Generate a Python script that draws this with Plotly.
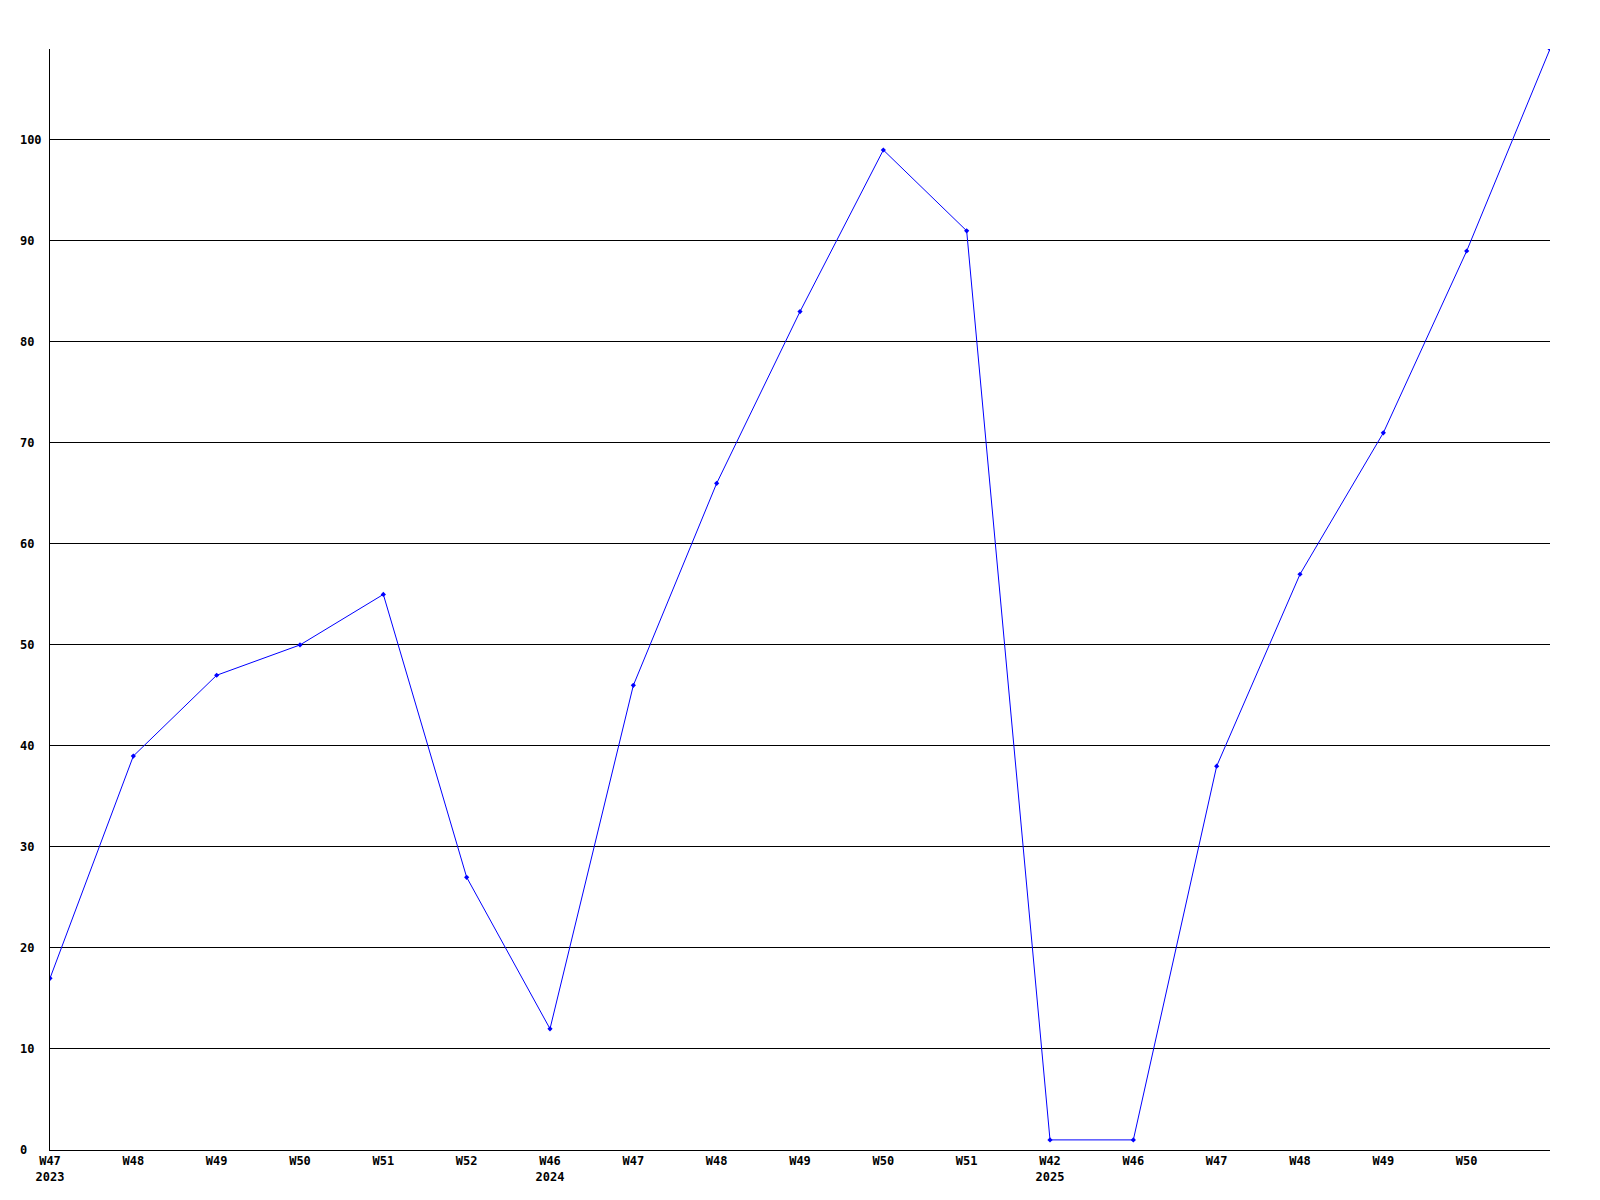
import plotly.graph_objects as go

# Weekly series, one point per week shown on the axis (last point runs off the top).
weeks = ["W47", "W48", "W49", "W50", "W51", "W52",
         "W46", "W47", "W48", "W49", "W50", "W51",
         "W42", "W46", "W47", "W48", "W49", "W50", ""]
years = ["2023", "", "", "", "", "",
         "2024", "", "", "", "", "",
         "2025", "", "", "", "", "", ""]
values = [17, 39, 47, 50, 55, 27, 12, 46, 66, 83, 99, 91, 1, 1, 38, 57, 71, 89, 109]

y_ticks = [0, 10, 20, 30, 40, 50, 60, 70, 80, 90, 100]

INK = "#000000"
LINE = "#0000ff"
FONT = dict(family="DejaVu Sans Mono, monospace", size=12, color=INK, weight="bold")

xs = list(range(len(values)))
tick_text = [f"{w}<br>{y}" if y else w for w, y in zip(weeks, years)]
# y labels are left-aligned in the original; pad with nbsp in a monospace font
width = max(len(str(v)) for v in y_ticks)
y_text = [str(v) + "\u00a0" * (width - len(str(v))) for v in y_ticks]

fig = go.Figure()
fig.add_trace(go.Scatter(
    x=xs, y=values, mode="lines+markers",
    line=dict(color=LINE, width=1),
    marker=dict(color=LINE, size=4, symbol="diamond"),
    cliponaxis=True, showlegend=False,
))

# page body has an 8px margin, so the figure is trimmed by 8px to keep
# the plot area where the original has it
fig.update_layout(
    width=1592, height=1192,
    margin=dict(l=42, r=50, t=41, b=50),
    paper_bgcolor="white", plot_bgcolor="white",
    font=FONT,
    xaxis=dict(
        range=[0, len(values) - 1],
        tickmode="array", tickvals=xs[:-1], ticktext=tick_text[:-1],
        showgrid=False, zeroline=False,
        showline=True, linecolor=INK, linewidth=1,
        ticks="", tickfont=FONT, tickangle=0,
    ),
    yaxis=dict(
        range=[0, 109],
        tickmode="array", tickvals=y_ticks, ticktext=y_text,
        showgrid=True, gridcolor=INK, gridwidth=1,
        zeroline=False,
        showline=True, linecolor=INK, linewidth=1,
        ticks="", tickfont=FONT, ticklabelstandoff=5,
    ),
)

fig.write_html("out.html")
